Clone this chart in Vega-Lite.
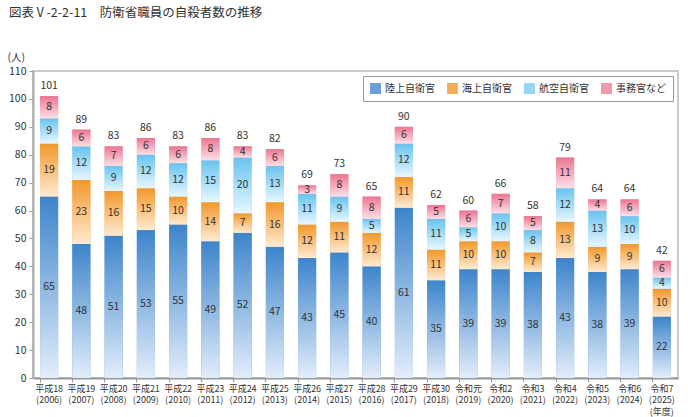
{
  "$schema": "https://vega.github.io/schema/vega-lite/v6.json",
  "width": 645,
  "height": 307,
  "autosize": "none",
  "padding": {"left": 33, "top": 71, "right": 10, "bottom": 39},
  "background": "white",
  "title": {
    "text": "図表Ⅴ-2-2-11　防衛省職員の自殺者数の推移",
    "anchor": "start",
    "frame": "group",
    "dx": -24,
    "offset": 33,
    "fontSize": 12.5,
    "fontWeight": "normal",
    "font": "Noto Sans CJK JP",
    "color": "#333"
  },
  "config": {
    "font": "Noto Sans CJK JP",
    "view": {"stroke": "#bbbbbb", "strokeWidth": 1.5},
    "axisY": {
      "tickCount": 11,
      "grid": false,
      "labelOverlap": false,
      "titleAngle": 0,
      "titleAlign": "left",
      "titleBaseline": "bottom",
      "titleX": -26,
      "titleY": -9,
      "titleFontSize": 10.5,
      "titleFontWeight": "normal",
      "titleColor": "#333",
      "labelFontSize": 10.5,
      "labelColor": "#333",
      "labelPadding": 3,
      "tickColor": "#999",
      "tickSize": 4,
      "domainColor": "#aaa",
      "domainWidth": 2
    }
  },
  "data": {
    "values": [
      {"year": "平成18|(2006)", "陸上自衛官": 65, "海上自衛官": 19, "航空自衛官": 9, "事務官など": 8},
      {"year": "平成19|(2007)", "陸上自衛官": 48, "海上自衛官": 23, "航空自衛官": 12, "事務官など": 6},
      {"year": "平成20|(2008)", "陸上自衛官": 51, "海上自衛官": 16, "航空自衛官": 9, "事務官など": 7},
      {"year": "平成21|(2009)", "陸上自衛官": 53, "海上自衛官": 15, "航空自衛官": 12, "事務官など": 6},
      {"year": "平成22|(2010)", "陸上自衛官": 55, "海上自衛官": 10, "航空自衛官": 12, "事務官など": 6},
      {"year": "平成23|(2011)", "陸上自衛官": 49, "海上自衛官": 14, "航空自衛官": 15, "事務官など": 8},
      {"year": "平成24|(2012)", "陸上自衛官": 52, "海上自衛官": 7, "航空自衛官": 20, "事務官など": 4},
      {"year": "平成25|(2013)", "陸上自衛官": 47, "海上自衛官": 16, "航空自衛官": 13, "事務官など": 6},
      {"year": "平成26|(2014)", "陸上自衛官": 43, "海上自衛官": 12, "航空自衛官": 11, "事務官など": 3},
      {"year": "平成27|(2015)", "陸上自衛官": 45, "海上自衛官": 11, "航空自衛官": 9, "事務官など": 8},
      {"year": "平成28|(2016)", "陸上自衛官": 40, "海上自衛官": 12, "航空自衛官": 5, "事務官など": 8},
      {"year": "平成29|(2017)", "陸上自衛官": 61, "海上自衛官": 11, "航空自衛官": 12, "事務官など": 6},
      {"year": "平成30|(2018)", "陸上自衛官": 35, "海上自衛官": 11, "航空自衛官": 11, "事務官など": 5},
      {"year": "令和元|(2019)", "陸上自衛官": 39, "海上自衛官": 10, "航空自衛官": 5, "事務官など": 6},
      {"year": "令和2|(2020)", "陸上自衛官": 39, "海上自衛官": 10, "航空自衛官": 10, "事務官など": 7},
      {"year": "令和3|(2021)", "陸上自衛官": 38, "海上自衛官": 7, "航空自衛官": 8, "事務官など": 5},
      {"year": "令和4|(2022)", "陸上自衛官": 43, "海上自衛官": 13, "航空自衛官": 12, "事務官など": 11},
      {"year": "令和5|(2023)", "陸上自衛官": 38, "海上自衛官": 9, "航空自衛官": 13, "事務官など": 4},
      {"year": "令和6|(2024)", "陸上自衛官": 39, "海上自衛官": 9, "航空自衛官": 10, "事務官など": 6},
      {"year": "令和7|(2025)|(年度)", "陸上自衛官": 22, "海上自衛官": 10, "航空自衛官": 4, "事務官など": 6}
    ]
  },
  "transform": [
    {"fold": ["陸上自衛官", "海上自衛官", "航空自衛官", "事務官など"], "as": ["type", "value"]},
    {"calculate": "indexof(['陸上自衛官', '海上自衛官', '航空自衛官', '事務官など'], datum.type)", "as": "rank"}
  ],
  "encoding": {
    "x": {
      "field": "year",
      "type": "nominal",
      "sort": null,
      "scale": {"paddingInner": 0.44, "paddingOuter": 0.22},
      "axis": {
        "title": null,
        "labelAngle": 0,
        "labelExpr": "split(datum.label, '|')",
        "labelFontSize": 9,
        "labelColor": "#333",
        "labelPadding": 2,
        "labelLineHeight": 11.5,
        "labelOverlap": false,
        "labelBaseline": "top",
        "bandPosition": 0,
        "tickColor": "#999",
        "tickSize": 4,
        "domainColor": "#999",
        "domainWidth": 2
      }
    }
  },
  "layer": [
    {
      "mark": {"type": "bar"},
      "encoding": {
        "y": {
          "field": "value",
          "type": "quantitative",
          "stack": "zero",
          "title": "(人)",
          "scale": {"domain": [0, 110]}
        },
        "color": {
          "field": "type",
          "type": "nominal",
          "scale": {
            "domain": ["陸上自衛官", "海上自衛官", "航空自衛官", "事務官など"],
            "range": ["#6a9fd9", "#f6ad5a", "#96d5f3", "#f19aae"]
          },
          "legend": {
            "title": null,
            "orient": "top-right",
            "direction": "horizontal",
            "columns": 4,
            "offset": 5,
            "padding": 7,
            "strokeColor": "#999",
            "fillColor": "white",
            "symbolType": "square",
            "symbolSize": 121,
            "symbolStrokeWidth": 0,
            "labelFontSize": 10,
            "labelColor": "#333",
            "columnPadding": 12,
            "labelOffset": 4,
            "encode": {
              "symbols": {
                "update": {
                  "fill": [
                    {"test": "datum.value === '陸上自衛官'", "value": {"gradient": "linear", "x1": 0, "y1": 0, "x2": 0, "y2": 1, "stops": [{"offset": 0, "color": "#3d84cb"}, {"offset": 1, "color": "#c9dcf3"}]}},
                    {"test": "datum.value === '海上自衛官'", "value": {"gradient": "linear", "x1": 0, "y1": 0, "x2": 0, "y2": 1, "stops": [{"offset": 0, "color": "#f3972a"}, {"offset": 1, "color": "#fbd6a8"}]}},
                    {"test": "datum.value === '航空自衛官'", "value": {"gradient": "linear", "x1": 0, "y1": 0, "x2": 0, "y2": 1, "stops": [{"offset": 0, "color": "#68c3ef"}, {"offset": 1, "color": "#d3effc"}]}},
                    {"value": {"gradient": "linear", "x1": 0, "y1": 0, "x2": 0, "y2": 1, "stops": [{"offset": 0, "color": "#ec7590"}, {"offset": 1, "color": "#f9cbd6"}]}}
                  ]
                }
              }
            }
          }
        },
        "order": {"field": "rank", "type": "quantitative"}
      }
    },
    {
      "mark": {"type": "bar"},
      "encoding": {
        "y": {"field": "value", "type": "quantitative", "stack": "zero", "title": "(人)"},
        "detail": {"field": "type"},
        "order": {"field": "rank", "type": "quantitative"},
        "fill": {
          "condition": [
            {"test": "datum.type === '陸上自衛官'", "value": {"gradient": "linear", "x1": 0, "y1": 0, "x2": 0, "y2": 1, "stops": [{"offset": 0, "color": "#3d84cb"}, {"offset": 1, "color": "#e2edfa"}]}},
            {"test": "datum.type === '海上自衛官'", "value": {"gradient": "linear", "x1": 0, "y1": 0, "x2": 0, "y2": 1, "stops": [{"offset": 0, "color": "#f3972a"}, {"offset": 1, "color": "#fdebd3"}]}},
            {"test": "datum.type === '航空自衛官'", "value": {"gradient": "linear", "x1": 0, "y1": 0, "x2": 0, "y2": 1, "stops": [{"offset": 0, "color": "#68c3ef"}, {"offset": 1, "color": "#e8f7fe"}]}}
          ],
          "value": {"gradient": "linear", "x1": 0, "y1": 0, "x2": 0, "y2": 1, "stops": [{"offset": 0, "color": "#ec7590"}, {"offset": 1, "color": "#fce0e7"}]}
        }
      }
    },
    {
      "mark": {"type": "text", "fontSize": 10.5, "color": "#333"},
      "encoding": {
        "y": {"field": "value", "type": "quantitative", "stack": "zero", "bandPosition": 0.5, "title": "(人)"},
        "detail": {"field": "type"},
        "order": {"field": "rank", "type": "quantitative"},
        "text": {"field": "value", "type": "quantitative"}
      }
    },
    {
      "mark": {"type": "text", "fontSize": 10.5, "color": "#333", "baseline": "bottom", "dy": -5},
      "encoding": {
        "y": {"aggregate": "sum", "field": "value", "type": "quantitative", "title": "(人)"},
        "text": {"aggregate": "sum", "field": "value", "type": "quantitative"}
      }
    }
  ]
}
